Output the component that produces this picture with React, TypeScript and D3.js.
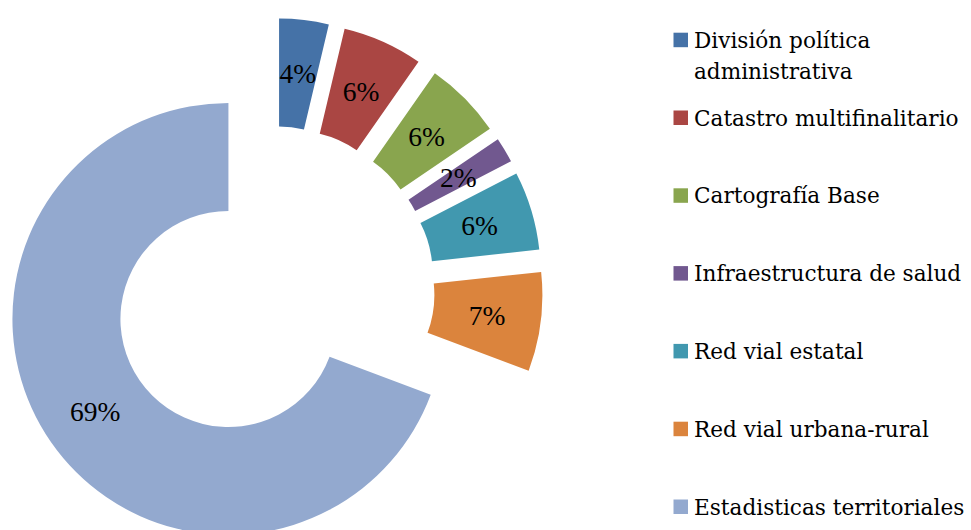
import React from "react";
import * as d3 from "d3";

const categories = [
  "División política administrativa",
  "Catastro multifinalitario",
  "Cartografía Base",
  "Infraestructura de salud",
  "Red vial estatal",
  "Red vial urbana-rural",
  "Estadisticas territoriales",
];
const values = [3.7, 6.0, 5.8, 1.9, 5.9, 7.4, 69.3];
const colors = ["#4572A7", "#AA4643", "#89A54E", "#71588F", "#4198AF", "#DB843D", "#93A9CF"];

const W = 971;
const H = 530;
const cx = 272.8;
const cy = 288.2;
const outerR = 216;
const innerR = 108;
const explode = 54;
const FONT = "'Liberation Serif', 'DejaVu Serif', serif";
const LEGEND_FONT = "'DejaVu Serif', 'Liberation Serif', serif";

function wrap(text: string, maxChars: number): string[] {
  const words = text.split(" ");
  const lines: string[] = [];
  let cur = "";
  for (const w of words) {
    const next = cur ? cur + " " + w : w;
    if (next.length > maxChars && cur) {
      lines.push(cur);
      cur = w;
    } else cur = next;
  }
  if (cur) lines.push(cur);
  return lines;
}

export default function App() {
  const total = d3.sum(values);
  const pie = d3
    .pie<number>()
    .sort(null)
    .value((d) => d)
    .startAngle(0)
    .endAngle(2 * Math.PI);
  const arcs = pie(values);
  const arc = d3.arc<d3.PieArcDatum<number>>().innerRadius(innerR).outerRadius(outerR);

  const legendX = 673.5;
  const legendTop = 32.7;
  const legendStep = 77.8;
  const sq = 14.5;

  return (
    <svg
      width={W}
      height={H}
      style={{ position: "absolute", left: 0, top: 0, background: "#fff" }}
      fontFamily={FONT}
    >
      <g transform={`translate(${cx},${cy})`}>
        {arcs.map((a, i) => {
          const mid = (a.startAngle + a.endAngle) / 2;
          const dx = explode * Math.sin(mid);
          const dy = -explode * Math.cos(mid);
          const [lx, ly] = arc.centroid(a);
          return (
            <g key={i} transform={`translate(${dx},${dy})`}>
              <path d={arc(a) || ""} fill={colors[i]} />
              <text
                x={lx}
                y={ly}
                textAnchor="middle"
                dominantBaseline="central"
                fontSize={27.5}
                fill="#000"
              >
                {Math.round((values[i] / total) * 100) + "%"}
              </text>
            </g>
          );
        })}
      </g>
      <g fontFamily={LEGEND_FONT}>
        {categories.map((c, i) => {
          const y0 = legendTop + i * legendStep;
          const lines = wrap(c, 26);
          return (
            <g key={i}>
              <rect x={legendX} y={y0} width={sq} height={sq} fill={colors[i]} />
              {lines.map((l, j) => (
                <text key={j} x={694} y={y0 + sq + 0.5 + j * 31.7} fontSize={21.6} fill="#000">
                  {l}
                </text>
              ))}
            </g>
          );
        })}
      </g>
    </svg>
  );
}
